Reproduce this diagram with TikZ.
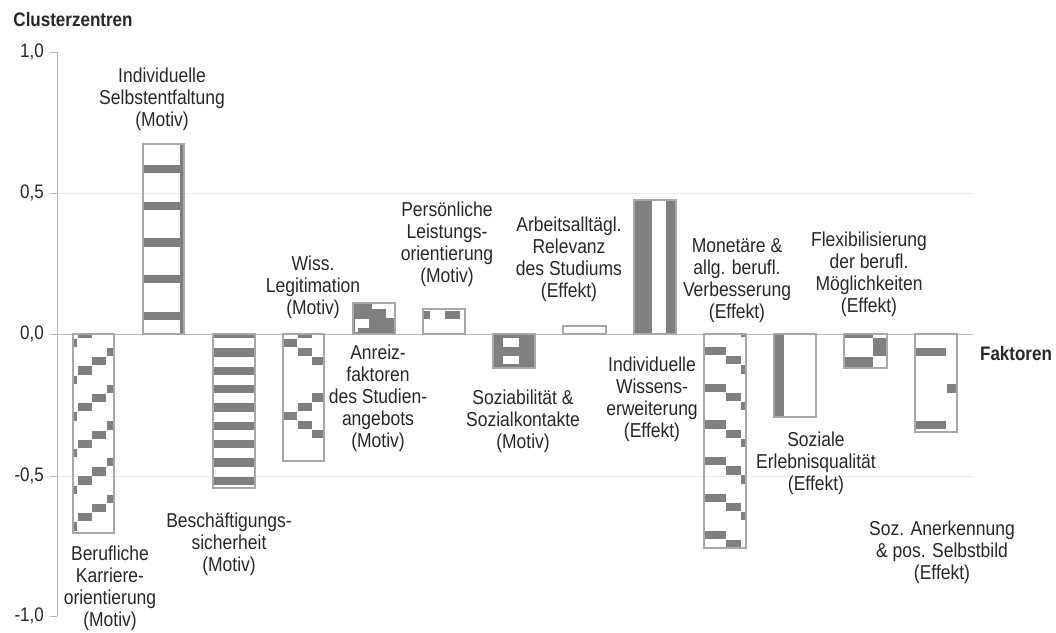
\documentclass[tikz,border=0pt]{standalone}
\usepackage{graphicx}
\usepackage{fontspec}
\setmainfont{Liberation Sans}
\definecolor{pat}{HTML}{808080}
\definecolor{edge}{HTML}{A8A8A8}
\definecolor{axisc}{HTML}{B8B8B8}
\definecolor{gridc}{HTML}{EDEDED}
\definecolor{txt}{HTML}{282828}
\newcommand{\vtxt}[1]{\scalebox{1}[1.15]{#1}}
\begin{document}
\begin{tikzpicture}[x=1pt,y=-1pt,
  lbl/.style={align=center,inner sep=0pt,text=txt,font=\fontsize{17.5}{22}\selectfont},
  ttl/.style={inner sep=0pt,text=txt,font=\bfseries\fontsize{17}{20}\selectfont},
  ticklbl/.style={inner sep=0pt,anchor=east,text=txt,font=\fontsize{17}{20}\selectfont},
  baredge/.style={draw=edge,line width=1.1pt},
  patfill/.style={fill=pat}]
\useasboundingbox[fill=white] (0,0) rectangle (1056,632);

% grid and axes
\draw[gridc,line width=1pt] (57,193) -- (973,193);
\draw[gridc,line width=1pt] (57,476) -- (973,476);
\draw[axisc,line width=1pt] (57,52) -- (57,616);
\foreach \yy in {52,193,334,476,616} \draw[axisc,line width=1pt] (50,\yy) -- (57,\yy);
\draw[axisc,line width=1pt] (57,334) -- (973,334);

% tick labels
\node[ticklbl] (t1) at (44,52) {\vtxt{1,0}};
\node[ticklbl] (t2) at (44,193) {\vtxt{0,5}};
\node[ticklbl] (t3) at (44,334) {\vtxt{0,0}};
\node[ticklbl] (t4) at (44,476) {\vtxt{-0,5}};
\node[ticklbl] (t5) at (44,616) {\vtxt{-1,0}};
\node[ttl] (ytitle) at (73,20) {\vtxt{Clusterzentren}};
\node[ttl] (xtitle) at (1016,354) {\vtxt{Faktoren}};

% bar 1
\begin{scope}
\clip (73,334) rectangle (114,533);
\foreach \n in {-1,...,5}{\foreach \k in {0,...,3}{
 \fill[patfill] ({62.5+14.6*(3-\k)+0.4},{348+36.7*\n+9.17*\k}) rectangle ++(14,8.3);}}
\end{scope}
\draw[baredge] (73,334) rectangle (114,533);

% bar 2
\begin{scope}
\clip (143,144) rectangle (184,334);
\foreach \n in {0,...,4} \fill[patfill] (143,{165+36.7*\n}) rectangle ++(41,8.3);
\fill[patfill] (180,144) rectangle (184,334);
\end{scope}
\draw[baredge] (143,144) rectangle (184,334);

% bar 3
\begin{scope}
\clip (213,334) rectangle (255,488);
\foreach \n in {0,...,8} \fill[patfill] (213,{330+18.33*\n}) rectangle ++(42,8.3);
\end{scope}
\draw[baredge] (213,334) rectangle (255,488);

% bar 4
\begin{scope}
\clip (283,334) rectangle (324,461);
\foreach \n in {-1,...,2}{
 \pgfmathsetmacro\bb{338.5+73.3*\n}
 \fill[patfill] (283,\bb) rectangle ++(14,8.3);
 \fill[patfill] (297.5,{\bb-9.17}) rectangle ++(14,8.3);
 \fill[patfill] (297.5,{\bb+9.17}) rectangle ++(14,8.3);
 \fill[patfill] (312,{\bb-18.33}) rectangle ++(14,8.3);
 \fill[patfill] (312,{\bb+18.33}) rectangle ++(14,8.3);
}
\end{scope}
\draw[baredge] (283,334) rectangle (324,461);

% bar 5
\fill[patfill] (353,303) rectangle (395,334);
\fill[white] (372,304) rectangle (394,308.5);
\fill[white] (386,308) rectangle (394,318);
\fill[white] (355,319) rectangle (369,328);
\fill[white] (355,328) rectangle (358,332);
\draw[baredge] (353,303) rectangle (395,334);

% bar 6
\fill[patfill] (424,311) rectangle (430,319);
\fill[patfill] (445,311) rectangle (460,319);
\draw[baredge] (423,309) rectangle (465,334);

% bar 7
\fill[patfill] (493,334) rectangle (535,368);
\fill[white] (503,338) rectangle (519,347);
\fill[white] (503,356) rectangle (519,364);
\draw[baredge] (493,334) rectangle (535,368);

% bar 8
\draw[baredge] (563,326) rectangle (606,334);

% bar 9
\fill[patfill] (634,200) rectangle (651.5,334);
\fill[patfill] (666,200) rectangle (676,334);
\draw[baredge] (634,200) rectangle (676,334);

% bar 10
\begin{scope}
\clip (704,334) rectangle (746,548);
\foreach \n in {-1,...,5}{
 \pgfmathsetmacro\bb{347+36.7*\n}
 \fill[patfill] (704,\bb) rectangle (725.5,{\bb+8.3});
 \fill[patfill] (726,{\bb+9.17}) rectangle ++(14.5,8.3);
 \fill[patfill] (741,{\bb+18.33}) rectangle ++(14,8.3);
}
\end{scope}
\draw[baredge] (704,334) rectangle (746,548);

% bar 11
\fill[patfill] (774,334) rectangle (784,417);
\draw[baredge] (774,334) rectangle (816,417);

% bar 12
\fill[patfill] (844,334) rectangle (873,338);
\fill[patfill] (873,338) rectangle (887,356);
\fill[patfill] (844,357) rectangle (873,368);
\draw[baredge] (844,334) rectangle (887,368);

% bar 13
\fill[patfill] (915,348) rectangle (946,356);
\fill[patfill] (947,384) rectangle (956,393);
\fill[patfill] (915,421) rectangle (946,429);
\draw[baredge] (915,334) rectangle (957,432);

% labels
\node[lbl] (n1) at (110,588) {\vtxt{Berufliche}\\\vtxt{Karriere-}\\\vtxt{orientierung}\\\vtxt{(Motiv)}};
\node[lbl] (n2) at (162,99) {\vtxt{Individuelle}\\\vtxt{Selbstentfaltung}\\\vtxt{(Motiv)}};
\node[lbl] (n3) at (229,544) {\vtxt{Beschäftigungs-}\\\vtxt{sicherheit}\\\vtxt{(Motiv)}};
\node[lbl] (n4) at (313,287) {\vtxt{Wiss.}\\\vtxt{Legitimation}\\\vtxt{(Motiv)}};
\node[lbl] (n5) at (378,398) {\vtxt{Anreiz-}\\\vtxt{faktoren}\\\vtxt{des Studien-}\\\vtxt{angebots}\\\vtxt{(Motiv)}};
\node[lbl] (n6) at (447,244) {\vtxt{Persönliche}\\\vtxt{Leistungs-}\\\vtxt{orientierung}\\\vtxt{(Motiv)}};
\node[lbl] (n7) at (523,421) {\vtxt{Soziabilität \&}\\\vtxt{Sozialkontakte}\\\vtxt{(Motiv)}};
\node[lbl] (n8) at (569,259) {\vtxt{Arbeitsalltägl.}\\\vtxt{Relevanz}\\\vtxt{des Studiums}\\\vtxt{(Effekt)}};
\node[lbl] (n9) at (652,399) {\vtxt{Individuelle}\\\vtxt{Wissens-}\\\vtxt{erweiterung}\\\vtxt{(Effekt)}};
\node[lbl] (n10) at (737,281) {\vtxt{Monetäre \&}\\\vtxt{allg. berufl.}\\\vtxt{Verbesserung}\\\vtxt{(Effekt)}};
\node[lbl] (n11) at (816,463) {\vtxt{Soziale}\\\vtxt{Erlebnisqualität}\\\vtxt{(Effekt)}};
\node[lbl] (n12) at (869,274) {\vtxt{Flexibilisierung}\\\vtxt{der berufl.}\\\vtxt{Möglichkeiten}\\\vtxt{(Effekt)}};
\node[lbl] (n13) at (942,552) {\vtxt{Soz. Anerkennung}\\\vtxt{\& pos. Selbstbild}\\\vtxt{(Effekt)}};
\end{tikzpicture}
\end{document}
